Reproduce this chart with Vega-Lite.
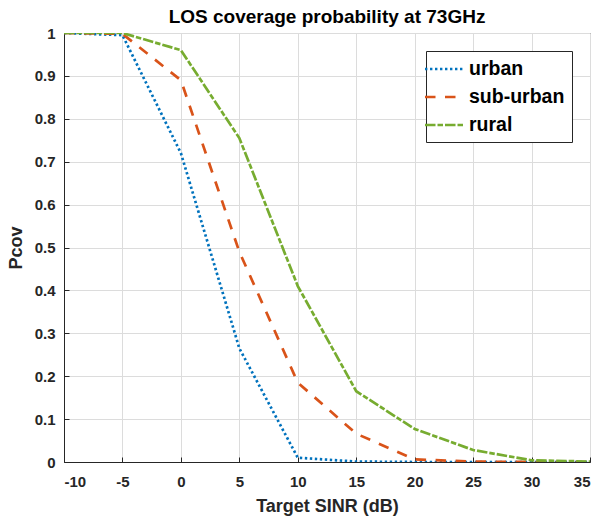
{
  "$schema": "https://vega.github.io/schema/vega-lite/v6.json",
  "width": 526,
  "height": 429,
  "autosize": {"type": "none"},
  "padding": {"left": 64, "top": 33, "right": 8, "bottom": 57},
  "background": "white",
  "title": {"text": "LOS coverage probability at 73GHz", "font": "Liberation Sans", "fontSize": 19, "fontWeight": "bold", "color": "#000000", "offset": -1, "anchor": "middle"},
  "config": {
    "view": {"stroke": "#262626", "strokeWidth": 1},
    "font": "Liberation Sans"
  },
  "data": {"values": [
    {"sinr": -10, "p": 1, "type": "urban"},
    {"sinr": -5, "p": 0.995, "type": "urban"},
    {"sinr": 0, "p": 0.72, "type": "urban"},
    {"sinr": 5, "p": 0.265, "type": "urban"},
    {"sinr": 10, "p": 0.01, "type": "urban"},
    {"sinr": 15, "p": 0.001, "type": "urban"},
    {"sinr": 20, "p": 0, "type": "urban"},
    {"sinr": 25, "p": 0, "type": "urban"},
    {"sinr": 30, "p": 0, "type": "urban"},
    {"sinr": 35, "p": 0, "type": "urban"},
    {"sinr": -10, "p": 1, "type": "sub-urban"},
    {"sinr": -5, "p": 0.998, "type": "sub-urban"},
    {"sinr": 0, "p": 0.89, "type": "sub-urban"},
    {"sinr": 5, "p": 0.49, "type": "sub-urban"},
    {"sinr": 10, "p": 0.185, "type": "sub-urban"},
    {"sinr": 15, "p": 0.066, "type": "sub-urban"},
    {"sinr": 20, "p": 0.006, "type": "sub-urban"},
    {"sinr": 25, "p": 0.001, "type": "sub-urban"},
    {"sinr": 30, "p": 0, "type": "sub-urban"},
    {"sinr": 35, "p": 0, "type": "sub-urban"},
    {"sinr": -10, "p": 1, "type": "rural"},
    {"sinr": -5, "p": 1, "type": "rural"},
    {"sinr": 0, "p": 0.96, "type": "rural"},
    {"sinr": 5, "p": 0.755, "type": "rural"},
    {"sinr": 10, "p": 0.41, "type": "rural"},
    {"sinr": 15, "p": 0.165, "type": "rural"},
    {"sinr": 20, "p": 0.077, "type": "rural"},
    {"sinr": 25, "p": 0.028, "type": "rural"},
    {"sinr": 30, "p": 0.004, "type": "rural"},
    {"sinr": 35, "p": 0.001, "type": "rural"}
  ]},
  "mark": {"type": "line", "strokeWidth": 2.7, "clip": true},
  "encoding": {
    "x": {"field": "sinr", "type": "quantitative",
      "scale": {"domain": [-10, 35], "nice": false},
      "axis": {"title": "Target SINR (dB)", "values": [-10,-5,0,5,10,15,20,25,30,35],
        "labelExpr": "toString(datum.value)",
        "titleFont": "Liberation Sans", "titleFontSize": 18, "titleFontWeight": "bold", "titleColor": "#262626", "titlePadding": 8,
        "labelFont": "Liberation Sans", "labelFontSize": 15, "labelFontWeight": "bold", "labelColor": "#262626", "labelPadding": 17,
        "tickSize": -5, "tickColor": "#262626", "domainColor": "#262626",
        "grid": true, "gridColor": "#dcdcdc", "gridWidth": 1}},
    "y": {"field": "p", "type": "quantitative",
      "scale": {"domain": [0, 1], "nice": false},
      "axis": {"title": "Pcov", "values": [0,0.1,0.2,0.3,0.4,0.5,0.6,0.7,0.8,0.9,1],
        "labelExpr": "toString(datum.value)",
        "titleFont": "Liberation Sans", "titleFontSize": 18, "titleFontWeight": "bold", "titleColor": "#262626", "titlePadding": 9,
        "labelFont": "Liberation Sans", "labelFontSize": 15, "labelFontWeight": "bold", "labelColor": "#262626", "labelPadding": 14,
        "tickSize": -5, "tickColor": "#262626", "domainColor": "#262626",
        "grid": true, "gridColor": "#dcdcdc", "gridWidth": 1}},
    "color": {"field": "type", "type": "nominal",
      "scale": {"domain": ["urban", "sub-urban", "rural"], "range": ["#0072BD", "#D95319", "#77AC30"]},
      "legend": {"title": null, "orient": "none", "legendX": 362, "legendY": 18,
        "symbolType": "M-2,0H2", "symbolSize": 361, "symbolStrokeWidth": 2.7,
        "labelFont": "Liberation Sans", "labelFontSize": 19.5, "labelFontWeight": "bold", "labelColor": "#000000",
        "rowPadding": 7, "labelOffset": 14,
        "padding": 7, "strokeColor": "#262626", "fillColor": "white"}},
    "strokeDash": {"field": "type", "type": "nominal",
      "scale": {"domain": ["urban", "sub-urban", "rural"], "range": [[2.4, 2.6], [10.5, 9.5], [10.5, 2, 5.5, 2]]},
      "legend": null},
    "order": {"field": "sinr", "type": "quantitative"}
  }
}
